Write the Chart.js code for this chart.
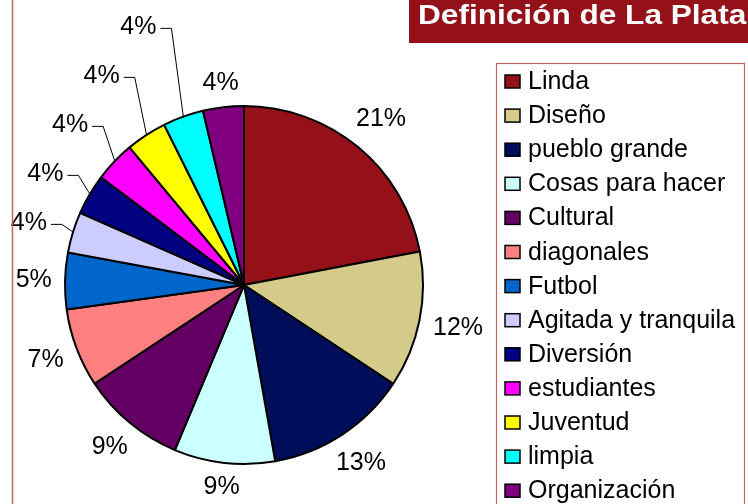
<!DOCTYPE html>
<html><head><meta charset="utf-8">
<script src="https://cdn.jsdelivr.net/npm/chart.js@4"></script>
<style>html,body{margin:0;padding:0;background:#fff;}#wrap{width:748px;height:504px;position:relative;overflow:hidden;}</style>
</head><body><div id="wrap"><canvas id="c" width="748" height="504"></canvas></div>
<script>
const chartTitle = 'Definición de La Plata';
const categories = ['Linda','Diseño','pueblo grande','Cosas para hacer','Cultural','diagonales','Futbol','Agitada y tranquila','Diversión','estudiantes','Juventud','limpia','Organización'];
const shares = [22.0, 12.3, 12.9, 9.1, 9.4, 7.1, 5.1, 3.68, 3.68, 3.68, 3.68, 3.68, 3.68];
const pctLabels = ['21%','12%','13%','9%','9%','7%','5%','4%','4%','4%','4%','4%','4%'];
const sliceColors = ['#951119','#D4CB8B','#000D5B','#CCFFFF','#640064','#FF8080','#0066CC','#CCCCFF','#000080','#FF00FF','#FFFF00','#00FFFF','#800080'];

const FONT = '"Liberation Sans", Arial, sans-serif';
const frameColor = '#C06464';

const decorPlugin = {
  id: 'decor',
  afterDraw(chart) {
    const ctx = chart.ctx;
    ctx.save();
    ctx.strokeStyle = frameColor; ctx.lineWidth = 1.5;
    ctx.beginPath(); ctx.moveTo(12.5, 0); ctx.lineTo(12.5, 504); ctx.stroke();
    ctx.fillStyle = sliceColors[0];
    ctx.fillRect(409, 0, 339, 43);
    ctx.save();
    ctx.translate(418, 23.5);
    ctx.scale(1.17, 1);
    ctx.fillStyle = '#fff';
    ctx.font = 'bold 27px ' + FONT;
    ctx.textBaseline = 'alphabetic';
    ctx.fillText(chartTitle, 0, 0);
    ctx.restore();
    ctx.strokeStyle = frameColor; ctx.lineWidth = 1.2;
    ctx.strokeRect(496.5, 63.5, 248, 500);
    ctx.font = '25px ' + FONT;
    ctx.textBaseline = 'alphabetic';
    categories.forEach((name, i) => {
      const base = 89 + i * 34.1;
      ctx.fillStyle = sliceColors[i];
      ctx.fillRect(505, base - 14, 15, 13);
      ctx.strokeStyle = '#000'; ctx.lineWidth = 1.5;
      ctx.strokeRect(505, base - 14, 15, 13);
      ctx.fillStyle = '#000';
      ctx.fillText(name, 528, base);
    });
    ctx.restore();
  }
};

const labelPlugin = {
  id: 'pctLabels',
  afterDatasetsDraw(chart) {
    const ctx = chart.ctx;
    const meta = chart.getDatasetMeta(0);
    ctx.save();
    ctx.font = '25px ' + FONT;
    ctx.fillStyle = '#000';
    ctx.textBaseline = 'middle';
    const h = 18;
    let prevY = null;
    meta.data.forEach((arc, i) => {
      const p = arc.getProps(['x','y','startAngle','endAngle','outerRadius'], true);
      const mid = (p.startAngle + p.endAngle) / 2;
      const c = Math.cos(mid), s = Math.sin(mid);
      const txt = pctLabels[i];
      const w = ctx.measureText(txt).width;
      const R = p.outerRadius;
      const deg = mid * 180 / Math.PI;
      if (deg > 190 && deg < 255) {
        const ax = p.x + (R - 1) * c, ay = p.y + (R - 1) * s;
        let ty = p.y + (R + 32) * s;
        if (prevY !== null) ty = Math.min(ty, prevY - 49);
        prevY = ty;
        const right = ax - 27;
        ctx.textAlign = 'right';
        ctx.fillText(txt, right, ty);
        ctx.strokeStyle = '#000'; ctx.lineWidth = 1;
        ctx.beginPath();
        ctx.moveTo(right + 4, ty + 1.5);
        ctx.lineTo(right + 15, ty + 1.5);
        ctx.lineTo(ax, ay);
        ctx.stroke();
      } else {
        const ext = Math.abs(c) * w / 2 + Math.abs(s) * h / 2;
        const r = R + 13 + ext;
        ctx.textAlign = 'center';
        ctx.fillText(txt, p.x + r * c, p.y + r * s);
      }
    });
    ctx.restore();
  }
};

new Chart(document.getElementById('c'), {
  type: 'pie',
  data: {
    labels: categories,
    datasets: [{
      data: shares,
      backgroundColor: sliceColors,
      borderColor: '#000',
      borderWidth: 2,
      hoverOffset: 0,
      hoverBorderWidth: 2
    }]
  },
  options: {
    responsive: false,
    devicePixelRatio: 1,
    animation: false,
    events: [],
    layout: { padding: { left: 64, right: 324, top: 105, bottom: 39 } },
    plugins: { legend: { display: false }, tooltip: { enabled: false }, title: { display: false } }
  },
  plugins: [labelPlugin, decorPlugin]
});
</script>
</body></html>
